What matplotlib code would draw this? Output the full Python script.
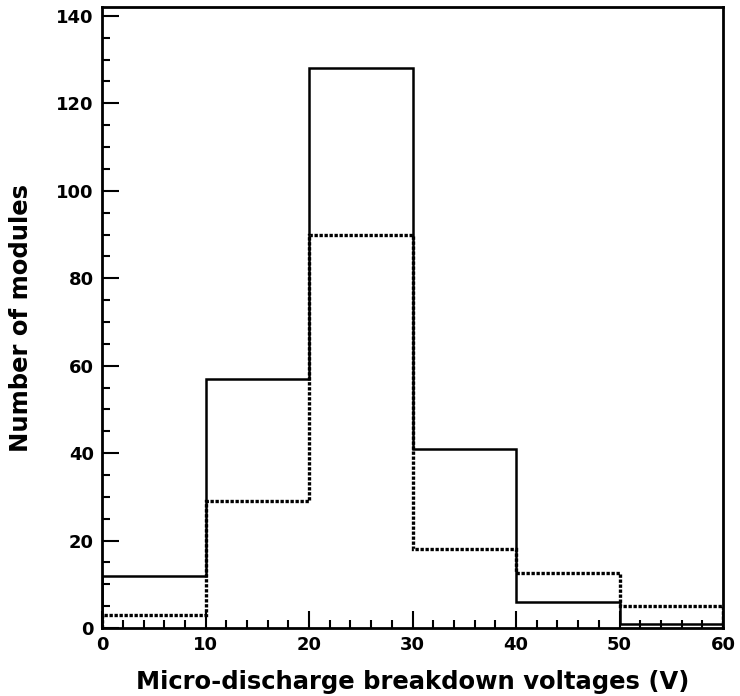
import numpy as np
import matplotlib
matplotlib.use("Agg")
import matplotlib.pyplot as plt
from matplotlib.ticker import MultipleLocator

# bin edges (V) and counts per bin
bin_edges = [0, 10, 20, 30, 40, 50, 60]
counts_solid = [12, 57, 128, 41, 6, 1]
counts_dotted = [3, 29, 90, 18, 12.6, 5]

plt.rcParams["font.family"] = "DejaVu Sans"
plt.rcParams["font.weight"] = "bold"

fig = plt.figure(figsize=[7.4, 6.96], dpi=100)
ax = fig.add_axes([0.138, 0.0977, 0.839, 0.892])

ax.stairs(counts_solid, bin_edges, color="black", lw=1.8)
ax.stairs(counts_dotted, bin_edges, color="black", lw=2.4, linestyle=(0, (1.0, 0.5)))

ax.set_xlim(0, 60)
ax.set_ylim(0, 142)
ax.xaxis.set_major_locator(MultipleLocator(10))
ax.xaxis.set_minor_locator(MultipleLocator(2))
ax.yaxis.set_major_locator(MultipleLocator(20))
ax.yaxis.set_minor_locator(MultipleLocator(5))
ax.tick_params(which="both", direction="in", top=False, right=False, width=1.5)
ax.tick_params(which="major", length=12, labelsize=13, pad=6)
ax.tick_params(which="minor", length=6)
for lab in ax.get_xticklabels() + ax.get_yticklabels():
    lab.set_fontweight("bold")
for s in ax.spines.values():
    s.set_linewidth(2)

ax.set_xlabel("Micro-discharge breakdown voltages (V)", fontsize=17.5, fontweight="bold", labelpad=11)
ax.set_ylabel("Number of modules", fontsize=17.5, fontweight="bold", labelpad=17)

plt.savefig("out.png", dpi=100)
plt.close("all")
